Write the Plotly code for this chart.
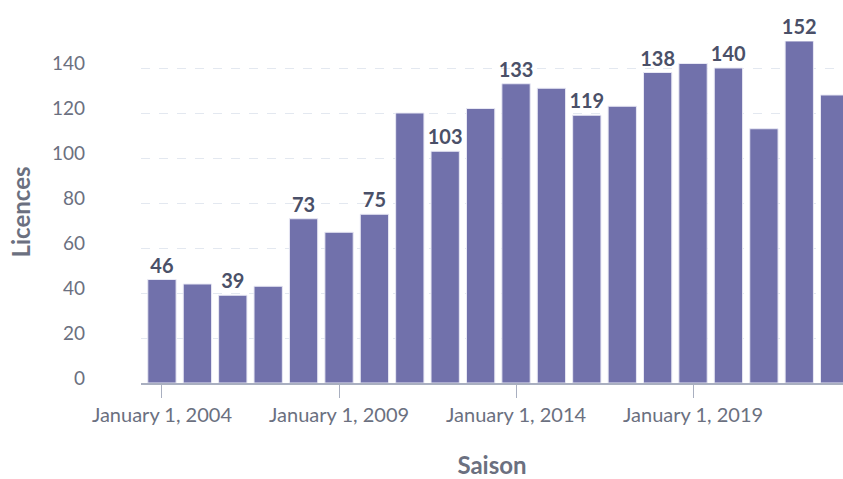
import plotly.graph_objects as go

years = list(range(2004, 2024))
seasons = [f"{y}-01-01" for y in years]
licences = [46, 44, 39, 43, 73, 67, 75, 120, 103, 122, 133, 131, 119, 123, 138, 142, 140, 113, 152, 128]
labels = [str(v) if i % 2 == 0 else "" for i, v in enumerate(licences)]

y_ticks = [0, 20, 40, 60, 80, 100, 120, 140]
x_ticks = ["2004-01-01", "2009-01-01", "2014-01-01", "2019-01-01"]

fig = go.Figure(
    go.Bar(
        x=seasons,
        y=licences,
        text=labels,
        textposition="outside",
        constraintext="none",
        cliponaxis=False,
        textfont=dict(family="Lato", size=20, color="#4a5068", weight="bold"),
        marker=dict(color="#7171ab", line=dict(color="#e8e8f4", width=1)),
    )
)

fig.update_layout(
    width=843,
    height=479,
    margin=dict(l=141, r=0, t=41, b=96),
    plot_bgcolor="white",
    paper_bgcolor="white",
    font=dict(family="Lato", color="#6b7080"),
    bargap=0.2,
    showlegend=False,
)

fig.update_xaxes(
    type="date",
    range=["2003-05-30", "2023-03-28"],
    tickvals=x_ticks,
    tickformat="%B %-d, %Y",
    ticks="outside",
    ticklen=13,
    tickcolor="#a9afc0",
    showline=True,
    linecolor="#a9afc0",
    linewidth=1.5,
    showgrid=False,
    tickfont=dict(family="Lato", size=20, color="#6b7080"),
    title=dict(text="Saison", font=dict(family="Lato", size=24, color="#6b7080", weight="bold"), standoff=36),
)

fig.update_yaxes(
    range=[0, 152],
    tickvals=y_ticks,
    showgrid=True,
    gridcolor="#e3e8f0",
    griddash="dash",
    gridwidth=1,
    zeroline=False,
    showline=False,
    ticklabelstandoff=55,
    ticklabelshift=-5,
    tickfont=dict(family="Lato", size=19, color="#6b7080"),
    title=dict(text="Licences", font=dict(family="Lato", size=24, color="#6b7080", weight="bold"), standoff=14),
)

fig.write_html("out.html")
